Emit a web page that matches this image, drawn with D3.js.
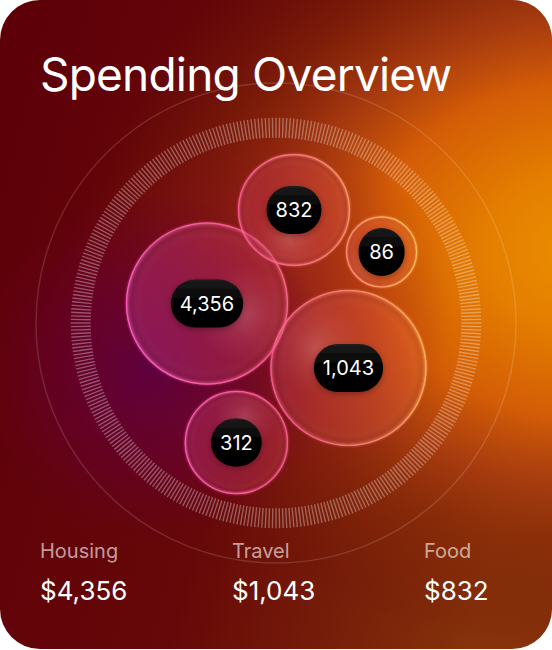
<!DOCTYPE html>
<html><head><meta charset="utf-8">
<script src="https://cdn.jsdelivr.net/npm/d3@7/dist/d3.min.js"></script>
<style>html,body{margin:0;padding:0;background:#fff;}svg{display:block;font-family:Inter,"Noto Sans",sans-serif;}</style>
</head><body><div id="chart"></div>
<script>
// ---- data ----
const title = "Spending Overview";
const bubbleValues = [4356, 1043, 832, 312, 86];
const categories = ["Housing", "Travel", "Food"];
const categoryValues = [4356, 1043, 832];
const tickCount = 360;

// ---- layout (normalized to ring radius) ----
const bubbleLayout = [
  {dx: -0.2875, dy: -0.081, r: 0.3375},
  {dx: 0.302, dy: 0.1875, r: 0.325},
  {dx: 0.075, dy: -0.471, r: 0.233},
  {dx: -0.165, dy: 0.498, r: 0.215},
  {dx: 0.44, dy: -0.296, r: 0.148}
];

const W = 552, H = 650;
const cx = 276, cy = 323, R = 240;
const svg = d3.select("#chart").append("svg").attr("width", W).attr("height", H);
const defs = svg.append("defs");

const x = d3.scaleLinear().domain([-1, 1]).range([cx - R, cx + R]);
const y = d3.scaleLinear().domain([-1, 1]).range([cy - R, cy + R]);
const rs = d3.scaleLinear().domain([0, 1]).range([0, R]);

// background gradients
const base = defs.append("linearGradient").attr("id", "bg").attr("x1", 0).attr("y1", 0.2).attr("x2", 1).attr("y2", 0.5);
base.append("stop").attr("offset", 0).attr("stop-color", "#5e0008");
base.append("stop").attr("offset", 0.5).attr("stop-color", "#660808");
base.append("stop").attr("offset", 1).attr("stop-color", "#86320a");

const orange = defs.append("radialGradient").attr("id", "orange").attr("gradientUnits", "userSpaceOnUse")
  .attr("cx", 0).attr("cy", 0).attr("r", 1)
  .attr("gradientTransform", "translate(590,250) scale(520,400)");
[[0, "#ec9000", 1], [0.2, "#e47e00", 1], [0.42, "#d65e06", 0.97], [0.58, "#b04010", 0.82], [0.74, "#8e2c08", 0.55], [0.9, "#7a1e08", 0.22], [1, "#6a0808", 0]]
  .forEach(s => orange.append("stop").attr("offset", s[0]).attr("stop-color", s[1]).attr("stop-opacity", s[2]));

const crim = defs.append("radialGradient").attr("id", "crim").attr("gradientUnits", "userSpaceOnUse")
  .attr("cx", 250).attr("cy", 320).attr("r", 200);
[[0, "#880c24", 0.6], [0.6, "#880c20", 0.35], [1, "#880c20", 0]]
  .forEach(s => crim.append("stop").attr("offset", s[0]).attr("stop-color", s[1]).attr("stop-opacity", s[2]));

const mag = defs.append("radialGradient").attr("id", "mag").attr("gradientUnits", "userSpaceOnUse")
  .attr("cx", 150).attr("cy", 370).attr("r", 180);
[[0, "#5e0040", 0.95], [0.55, "#660030", 0.6], [1, "#660020", 0]]
  .forEach(s => mag.append("stop").attr("offset", s[0]).attr("stop-color", s[1]).attr("stop-opacity", s[2]));

const clip = defs.append("clipPath").attr("id", "card");
clip.append("rect").attr("width", W).attr("height", 649).attr("rx", 40);

const card = svg.append("g").attr("clip-path", "url(#card)");
card.append("rect").attr("width", W).attr("height", H).attr("fill", "url(#bg)");
card.append("rect").attr("width", W).attr("height", H).attr("fill", "url(#orange)");
card.append("rect").attr("width", W).attr("height", H).attr("fill", "url(#crim)");
card.append("rect").attr("width", W).attr("height", H).attr("fill", "url(#mag)");

// outer thin ring
card.append("circle").attr("cx", cx).attr("cy", cy).attr("r", rs(1))
  .attr("fill", "none").attr("stroke", "#fff").attr("stroke-opacity", 0.14).attr("stroke-width", 1.5);

// tick ring
const ang = d3.scaleLinear().domain([0, tickCount]).range([0, 2 * Math.PI]);
const rIn = rs(0.772), rOut = rs(0.855);
card.append("g").selectAll("line").data(d3.range(tickCount)).join("line")
  .attr("x1", i => cx + rIn * Math.cos(ang(i))).attr("y1", i => cy + rIn * Math.sin(ang(i)))
  .attr("x2", i => cx + rOut * Math.cos(ang(i))).attr("y2", i => cy + rOut * Math.sin(ang(i)))
  .attr("stroke", "#fff").attr("stroke-opacity", 0.33).attr("stroke-width", 1.4);

// title
card.append("text").attr("x", 40).attr("y", 91).attr("fill", "#fff")
  .attr("font-size", 46).attr("font-weight", 400).attr("letter-spacing", -0.8).text(title);

// bubble defs
const strokeGrad = defs.append("linearGradient").attr("id", "stroke").attr("gradientUnits", "userSpaceOnUse")
  .attr("x1", 130).attr("y1", 320).attr("x2", 430).attr("y2", 260);
[[0, "#ff5cc0"], [0.45, "#ff5a90"], [0.75, "#ff9070"], [1, "#ffc850"]]
  .forEach(s => strokeGrad.append("stop").attr("offset", s[0]).attr("stop-color", s[1]));

const fillGrad = defs.append("linearGradient").attr("id", "fill").attr("gradientUnits", "userSpaceOnUse")
  .attr("x1", 130).attr("y1", 300).attr("x2", 430).attr("y2", 300);
[[0, "#c8388e", 0.4], [0.45, "#e04060", 0.32], [1, "#ff7a40", 0.28]]
  .forEach(s => fillGrad.append("stop").attr("offset", s[0]).attr("stop-color", s[1]).attr("stop-opacity", s[2]));

const rim = defs.append("radialGradient").attr("id", "rim");
[[0, "#fff", 0], [0.8, "#fff", 0], [0.93, "#300010", 0.07], [0.985, "#fff", 0.1], [1, "#fff", 0.16]]
  .forEach(s => rim.append("stop").attr("offset", s[0]).attr("stop-color", s[1]).attr("stop-opacity", s[2]));

const hl = defs.append("radialGradient").attr("id", "hl");
[[0, "#ffd0d0", 0.2], [0.5, "#ffc0c0", 0.08], [1, "#ffc0c0", 0]]
  .forEach(s => hl.append("stop").attr("offset", s[0]).attr("stop-color", s[1]).attr("stop-opacity", s[2]));

const glow = defs.append("filter").attr("id", "glow").attr("x", "-20%").attr("y", "-20%").attr("width", "140%").attr("height", "140%");
glow.append("feGaussianBlur").attr("stdDeviation", 1.1).attr("result", "b");
const gm = glow.append("feMerge");
gm.append("feMergeNode").attr("in", "b");
gm.append("feMergeNode").attr("in", "SourceGraphic");

const pillGrad = defs.append("linearGradient").attr("id", "pill").attr("x1", 0).attr("y1", 0).attr("x2", 0).attr("y2", 1);
pillGrad.append("stop").attr("offset", 0).attr("stop-color", "#1c1c1c");
pillGrad.append("stop").attr("offset", 0.45).attr("stop-color", "#030303");
pillGrad.append("stop").attr("offset", 1).attr("stop-color", "#000");

const shadow = defs.append("filter").attr("id", "shadow").attr("x", "-30%").attr("y", "-30%").attr("width", "160%").attr("height", "170%");
shadow.append("feDropShadow").attr("dx", 0).attr("dy", 2).attr("stdDeviation", 3).attr("flood-color", "#000").attr("flood-opacity", 0.3);

const bubbles = bubbleValues.map((v, i) => ({
  value: v, x: x(bubbleLayout[i].dx), y: y(bubbleLayout[i].dy), r: rs(bubbleLayout[i].r), i
}));

bubbles.forEach(b => {
  defs.append("clipPath").attr("id", "bc" + b.i).append("circle").attr("cx", b.x).attr("cy", b.y).attr("r", b.r);
});

const fmt = d3.format(",");
const bg = card.append("g").selectAll("g").data(bubbles).join("g");
bg.append("circle").attr("cx", d => d.x).attr("cy", d => d.y).attr("r", d => d.r).attr("fill", "url(#fill)");
bg.append("circle").attr("clip-path", d => `url(#bc${d.i})`)
  .attr("cx", d => { const a = Math.atan2(cy - d.y, cx - d.x); return d.x + Math.cos(a) * d.r * 0.5; })
  .attr("cy", d => { const a = Math.atan2(cy - d.y, cx - d.x); return d.y + Math.sin(a) * d.r * 0.5; })
  .attr("r", d => d.r * 0.6).attr("fill", "url(#hl)");
bg.append("circle").attr("cx", d => d.x).attr("cy", d => d.y).attr("r", d => d.r).attr("fill", "url(#rim)");
bg.append("circle").attr("cx", d => d.x).attr("cy", d => d.y).attr("r", d => d.r - 0.5)
  .attr("fill", "none").attr("stroke", "url(#stroke)").attr("stroke-width", 1.2).attr("stroke-opacity", 0.9).attr("filter", "url(#glow)");

bg.each(function(d) {
  const g = d3.select(this);
  const t = g.append("text").attr("x", d.x).attr("y", d.y).attr("text-anchor", "middle")
    .attr("dy", "0.36em").attr("fill", "#fff").attr("font-size", 20).text(fmt(d.value));
  const tw = t.node().getComputedTextLength();
  const pw = Math.max(tw + 18, 46), ph = 48;
  g.insert("rect", "text").attr("x", d.x - pw / 2).attr("y", d.y - ph / 2).attr("width", pw).attr("height", ph)
    .attr("rx", Math.min(pw, ph) / 2).attr("fill", "url(#pill)").attr("filter", "url(#shadow)");
});

// legend
const col = d3.scalePoint().domain(categories).range([40, 424]);
const lg = card.append("g").selectAll("g").data(categories).join("g")
  .attr("transform", d => `translate(${col(d)},0)`);
lg.append("text").attr("y", 558).attr("fill", "#fff").attr("fill-opacity", 0.62).attr("font-size", 20).text(d => d);
lg.append("text").attr("y", 600).attr("fill", "#fff").attr("font-size", 26)
  .text((d, i) => "$" + fmt(categoryValues[i]));
</script></body></html>
